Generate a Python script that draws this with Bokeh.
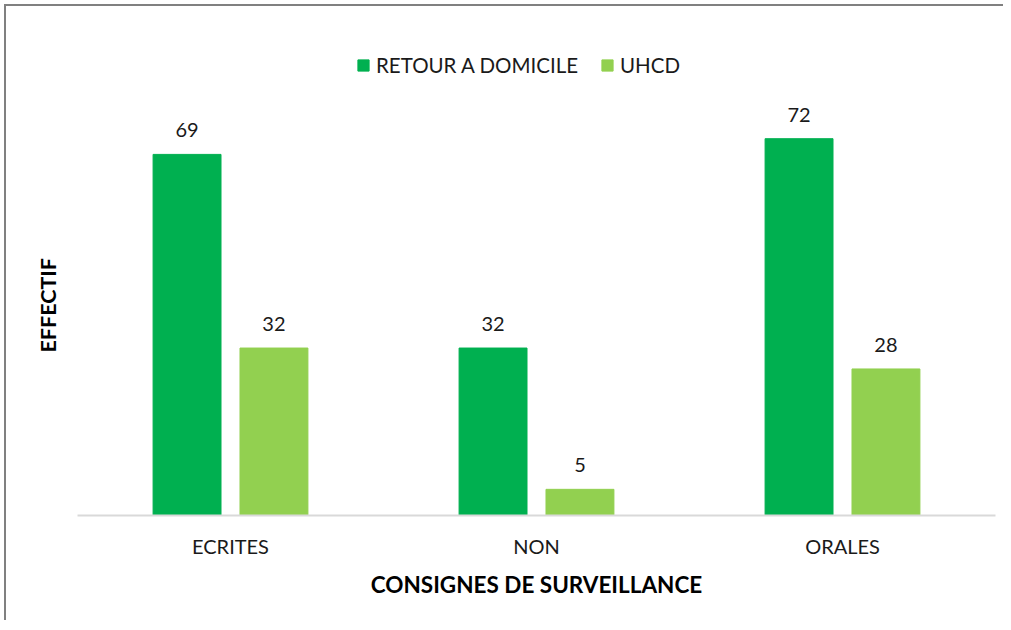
from bokeh.plotting import figure
from bokeh.models import ColumnDataSource, FactorRange, Range1d, Legend, LegendItem, Title
from bokeh.transform import dodge
from bokeh.core.properties import value
from bokeh.embed import file_html
from bokeh.resources import INLINE

categories = ["ECRITES", "NON", "ORALES"]
retour = [69, 32, 72]
uhcd = [32, 5, 28]
series_names = ["RETOUR A DOMICILE", "UHCD"]

DARK = "#00B050"
LIGHT = "#92D050"
FONT = "Lato"

src = ColumnDataSource(dict(
    cat=categories, retour=retour, uhcd=uhcd,
    retour_txt=[str(v) for v in retour], uhcd_txt=[str(v) for v in uhcd],
))

p = figure(x_range=FactorRange(*categories), y_range=Range1d(0, 90),
           width=999, height=616, output_backend="svg", toolbar_location=None,
           min_border_left=71, min_border_right=10, min_border_top=38, min_border_bottom=107)

r1 = p.vbar(x=dodge("cat", -0.142, range=p.x_range), top="retour", width=0.222,
            source=src, fill_color=DARK, line_color=DARK)
r2 = p.vbar(x=dodge("cat", 0.142, range=p.x_range), top="uhcd", width=0.222,
            source=src, fill_color=LIGHT, line_color=LIGHT)

for col, off in (("retour", -0.142), ("uhcd", 0.142)):
    p.text(x=dodge("cat", off, range=p.x_range), y=col, text=col + "_txt", source=src,
           text_align="center", text_baseline="bottom", y_offset=-17,
           text_font=value(FONT), text_font_size="20px", text_color="#1a1a1a")

legend = Legend(items=[LegendItem(label=series_names[0], renderers=[r1]),
                       LegendItem(label=series_names[1], renderers=[r2])],
                location=(279, 438), orientation="horizontal",
                label_text_font=FONT, label_text_font_size="20.5px", label_text_color="#1a1a1a",
                glyph_width=14, glyph_height=14, label_standoff=6, spacing=22,
                margin=0, padding=6,
                border_line_color=None, background_fill_alpha=0)
p.add_layout(legend)

p.xgrid.grid_line_color = None
p.ygrid.grid_line_color = None
p.outline_line_color = None

p.xaxis.axis_line_color = "#D9D9D9"
p.xaxis.axis_line_width = 2
p.xaxis.major_tick_line_color = None
p.xaxis.minor_tick_line_color = None
p.xaxis.major_label_text_font = FONT
p.xaxis.major_label_text_font_size = "20px"
p.xaxis.major_label_text_color = "#1a1a1a"
p.xaxis.major_label_standoff = 12
p.xaxis.axis_label = "CONSIGNES DE SURVEILLANCE"
p.xaxis.axis_label_text_font = FONT
p.xaxis.axis_label_text_font_style = "bold"
p.xaxis.axis_label_text_font_size = "22.5px"
p.xaxis.axis_label_text_color = "#000000"
p.xaxis.axis_label_standoff = 10

p.yaxis.visible = False

ytitle = Title(text="EFFECTIF", align="left", offset=163, standoff=34,
               text_font=FONT, text_font_style="bold", text_font_size="21.5px",
               text_color="#000000")
p.add_layout(ytitle, "left")

p.styles = {"border-left": "2px solid #808080", "border-top": "2px solid #808080",
            "margin-left": "4px", "margin-top": "4px"}

open("out.html", "w").write(file_html(p, INLINE))
